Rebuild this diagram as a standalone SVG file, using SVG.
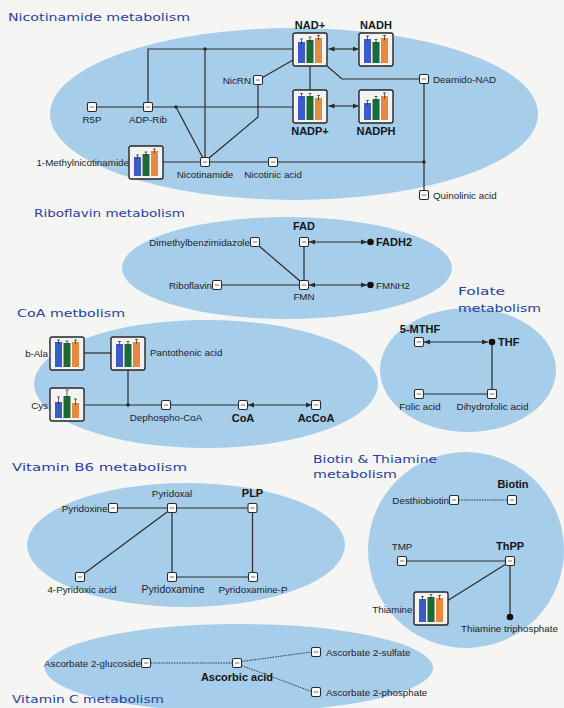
<svg xmlns="http://www.w3.org/2000/svg" xmlns:xlink="http://www.w3.org/1999/xlink" width="564" height="708" viewBox="0 0 564 708">
  <style>
    .bg { fill: #f5f5f3; }
    .zone { fill: #a6cde9; }
    .tt { font-family: "DejaVu Sans", "Verdana", sans-serif; font-size: 11px; fill: #2a3fa4; }
    .lb { font-family: "Liberation Sans", Arial, sans-serif; font-size: 9.8px; fill: #22222c; }
    .bd { font-family: "Liberation Sans", Arial, sans-serif; font-size: 11px; font-weight: bold; fill: #151518; }
    .ln { fill: none; stroke: #2b2b2b; stroke-width: 1.2; }
    .dl { fill: none; stroke: #3a3f52; stroke-width: 1; stroke-dasharray: 1.6 1; }
    .ar { fill: none; stroke: #2b2b2b; stroke-width: 1.1; marker-start: url(#ah); marker-end: url(#ah); }
    .jn { fill: #2b2b2b; }
    .dot { fill: #111; }
    .bx { fill: #f3f3f3; stroke: #262626; stroke-width: 1.4; }
    .b1 { fill: #3a5cc6; }
    .b2 { fill: #1f6a34; }
    .b3 { fill: #e9893e; }
    .eb { fill: none; stroke: #222; stroke-width: 0.7; }
    .sn { fill: #ffffff; stroke: #2a2a2a; stroke-width: 1.1; }
    .mk { fill: #9a9a9a; }
  </style>
  <defs>
    <marker id="ah" viewBox="0 0 6 6" refX="6" refY="3" markerWidth="6" markerHeight="6" markerUnits="userSpaceOnUse" orient="auto-start-reverse">
      <path d="M0,0.4 L6,3 L0,5.6 z" fill="#2b2b2b"/>
    </marker>
    <!-- small compound node, centred on 0,0 -->
    <g id="sn">
      <rect class="sn" x="-4.5" y="-4.5" width="9" height="9" rx="1.5"/>
      <rect class="mk" x="-2.2" y="-0.7" width="4.4" height="1.4"/>
    </g>
  </defs>

  <rect class="bg" x="0" y="0" width="564" height="708"/>

  <!-- pathway areas -->
  <ellipse class="zone" cx="294" cy="114" rx="244" ry="86"/>
  <ellipse class="zone" cx="287" cy="268" rx="165" ry="51"/>
  <ellipse class="zone" cx="206" cy="384" rx="172" ry="64"/>
  <ellipse class="zone" cx="468" cy="370" rx="88" ry="62"/>
  <ellipse class="zone" cx="186" cy="545" rx="159" ry="62"/>
  <ellipse class="zone" cx="466" cy="550" rx="98" ry="98"/>
  <ellipse class="zone" cx="239" cy="668" rx="194" ry="44"/>

  <!-- pathway titles -->
  <g id="titles">
    <text class="tt" x="8" y="21" textLength="182" lengthAdjust="spacingAndGlyphs">Nicotinamide metabolism</text>
    <text class="tt" x="34" y="217" textLength="151" lengthAdjust="spacingAndGlyphs">Riboflavin metabolism</text>
    <text class="tt" x="17" y="317" textLength="108" lengthAdjust="spacingAndGlyphs">CoA metbolism</text>
    <text class="tt" x="458" y="295" textLength="47" lengthAdjust="spacingAndGlyphs">Folate</text>
    <text class="tt" x="458" y="312" textLength="83" lengthAdjust="spacingAndGlyphs">metabolism</text>
    <text class="tt" x="12" y="471" textLength="175" lengthAdjust="spacingAndGlyphs">Vitamin B6 metabolism</text>
    <text class="tt" x="313" y="463" textLength="124" lengthAdjust="spacingAndGlyphs">Biotin &amp; Thiamine</text>
    <text class="tt" x="313" y="478" textLength="84" lengthAdjust="spacingAndGlyphs">metabolism</text>
    <text class="tt" x="12" y="703" textLength="152" lengthAdjust="spacingAndGlyphs">Vitamin C metabolism</text>
  </g>

  <!-- connectors -->
  <g id="connectors">
    <!-- nicotinamide -->
    <path class="ln" d="M148,102.5 V49 H293"/>
    <path class="ln" d="M205,157.5 V49"/>
    <path class="ln" d="M96.5,107 H143.5"/>
    <path class="ln" d="M152.5,107 H293"/>
    <path class="ln" d="M176,107 L203,158"/>
    <path class="ln" d="M262.5,77.5 L293,60"/>
    <path class="ln" d="M258,84.5 V117 L208.5,158.5"/>
    <path class="ln" d="M162.5,162 H200.5"/>
    <path class="ln" d="M209.5,162 H268.5"/>
    <path class="ln" d="M277.5,162 H424"/>
    <path class="ln" d="M327,66 L342,79 H419.5"/>
    <path class="ln" d="M424,83.5 V190.5"/>
    <path class="ln" d="M310,66 V90"/>
    <path class="ar" d="M328.5,49 H358.5"/>
    <path class="ar" d="M328.5,106 H358.5"/>
    <circle class="jn" cx="205" cy="49" r="1.8"/>
    <circle class="jn" cx="176" cy="107" r="1.8"/>
    <circle class="jn" cx="424" cy="162" r="1.8"/>
    <!-- riboflavin -->
    <path class="ln" d="M258.5,245.5 L300.5,281.5"/>
    <path class="ln" d="M304,246.5 V280.5"/>
    <path class="ln" d="M221.5,285 H299.5"/>
    <path class="ar" d="M309,242 H367"/>
    <path class="ar" d="M309,285 H367"/>
    <!-- CoA -->
    <path class="ln" d="M84,353 H111"/>
    <path class="ln" d="M128,370 V405"/>
    <path class="ln" d="M84,405 H161.5"/>
    <path class="ln" d="M170.5,405 H238.5"/>
    <path class="ar" d="M248,405 H311.5"/>
    <circle class="jn" cx="128" cy="405" r="1.8"/>
    <!-- folate -->
    <path class="ar" d="M424,342 H488"/>
    <path class="ln" d="M492,342 V389.5"/>
    <path class="ln" d="M423.5,394 H487.5"/>
    <!-- vitamin B6 -->
    <path class="ln" d="M117.5,508 H167.5"/>
    <path class="ln" d="M176.5,508 H247.5"/>
    <path class="ln" d="M168.5,511 L83.5,574"/>
    <path class="ln" d="M172,512.5 V572.5"/>
    <path class="ln" d="M252.5,512.5 V572.5"/>
    <path class="ln" d="M176.5,577 H248.5"/>
    <!-- biotin & thiamine -->
    <path class="dl" d="M458.5,500 H507.5"/>
    <path class="ln" d="M406.5,561 H505.5"/>
    <path class="ln" d="M447,601 L506,564"/>
    <path class="ln" d="M510,565.5 V617"/>
    <!-- vitamin C -->
    <path class="dl" d="M150.5,663 H232.5"/>
    <path class="dl" d="M241.5,661.5 L311.5,652"/>
    <path class="dl" d="M241.5,665.5 L311.5,691.5"/>
  </g>

  <!-- nicotinamide metabolism nodes -->
  <g id="nad">
    <g transform="translate(293,33)">
      <rect class="bx" width="34" height="33" rx="2"/>
      <rect class="b1" x="5" y="9" width="7" height="21"/><rect class="b2" x="13.5" y="7" width="7" height="23"/><rect class="b3" x="22" y="5" width="7" height="25"/>
      <path class="eb" d="M8.5,6 v5 M7,6 h3 M17,4 v5 M15.5,4 h3 M25.5,2.5 v5 M24,2.5 h3"/>
    </g>
    <text class="bd" x="310" y="29" text-anchor="middle">NAD+</text>
  </g>
  <g id="nadh">
    <g transform="translate(359,33)">
      <rect class="bx" width="34" height="33" rx="2"/>
      <rect class="b1" x="5" y="6" width="7" height="24"/><rect class="b2" x="13.5" y="9" width="7" height="21"/><rect class="b3" x="22" y="5" width="7" height="25"/>
      <path class="eb" d="M8.5,3 v5 M7,3 h3 M17,6.5 v5 M15.5,6.5 h3 M25.5,2.5 v5 M24,2.5 h3"/>
    </g>
    <text class="bd" x="376" y="29" text-anchor="middle">NADH</text>
  </g>
  <g id="nadp">
    <g transform="translate(293,90)">
      <rect class="bx" width="34" height="33" rx="2"/>
      <rect class="b1" x="5" y="6" width="7" height="24"/><rect class="b2" x="13.5" y="6" width="7" height="24"/><rect class="b3" x="22" y="8" width="7" height="22"/>
      <path class="eb" d="M8.5,3.5 v5 M7,3.5 h3 M17,3.5 v5 M15.5,3.5 h3 M25.5,5.5 v5 M24,5.5 h3"/>
    </g>
    <text class="bd" x="310" y="135" text-anchor="middle">NADP+</text>
  </g>
  <g id="nadph">
    <g transform="translate(359,90)">
      <rect class="bx" width="34" height="33" rx="2"/>
      <rect class="b1" x="5" y="13" width="7" height="17"/><rect class="b2" x="13.5" y="9" width="7" height="21"/><rect class="b3" x="22" y="6" width="7" height="24"/>
      <path class="eb" d="M8.5,10.5 v5 M7,10.5 h3 M17,6.5 v5 M15.5,6.5 h3 M25.5,3 v6 M24,3 h3"/>
    </g>
    <text class="bd" x="376" y="135" text-anchor="middle">NADPH</text>
  </g>
  <g id="methylnicotinamide">
    <g transform="translate(129,146)">
      <rect class="bx" width="34" height="33" rx="2"/>
      <rect class="b1" x="5" y="11" width="7" height="19"/><rect class="b2" x="13.5" y="8" width="7" height="22"/><rect class="b3" x="22" y="5" width="7" height="25"/>
      <path class="eb" d="M8.5,9 v4 M7,9 h3 M17,6 v4 M15.5,6 h3 M25.5,3 v4 M24,3 h3"/>
    </g>
    <text class="lb" x="129" y="166" text-anchor="end">1-Methylnicotinamide</text>
  </g>
  <g id="r5p"><use xlink:href="#sn" x="92" y="107"/><text class="lb" x="92" y="123" text-anchor="middle">R5P</text></g>
  <g id="adp-rib"><use xlink:href="#sn" x="148" y="107"/><text class="lb" x="148" y="123" text-anchor="middle">ADP-Rib</text></g>
  <g id="nicrn"><use xlink:href="#sn" x="258" y="80"/><text class="lb" x="251" y="83.5" text-anchor="end">NicRN</text></g>
  <g id="nicotinamide"><use xlink:href="#sn" x="205" y="162"/><text class="lb" x="205" y="178" text-anchor="middle">Nicotinamide</text></g>
  <g id="nicotinic-acid"><use xlink:href="#sn" x="273" y="162"/><text class="lb" x="273" y="178" text-anchor="middle">Nicotinic acid</text></g>
  <g id="deamido-nad"><use xlink:href="#sn" x="424" y="79"/><text class="lb" x="433" y="82.5">Deamido-NAD</text></g>
  <g id="quinolinic-acid"><use xlink:href="#sn" x="424" y="195"/><text class="lb" x="433" y="198.5">Quinolinic acid</text></g>

  <!-- riboflavin metabolism nodes -->
  <g id="dmb"><use xlink:href="#sn" x="255" y="242"/><text class="lb" x="250" y="245.5" text-anchor="end">Dimethylbenzimidazole</text></g>
  <g id="fad"><use xlink:href="#sn" x="304" y="242"/><text class="bd" x="304" y="230" text-anchor="middle">FAD</text></g>
  <g id="riboflavin"><use xlink:href="#sn" x="217" y="285"/><text class="lb" x="212" y="288.5" text-anchor="end">Riboflavin</text></g>
  <g id="fmn"><use xlink:href="#sn" x="304" y="285"/><text class="lb" x="304" y="300" text-anchor="middle">FMN</text></g>
  <g id="fadh2"><circle class="dot" cx="370.5" cy="242" r="3.3"/><text class="bd" x="376" y="246">FADH2</text></g>
  <g id="fmnh2"><circle class="dot" cx="370.5" cy="285" r="3.3"/><text class="lb" x="376" y="288.5">FMNH2</text></g>

  <!-- CoA metabolism nodes -->
  <g id="b-ala">
    <g transform="translate(50,337)">
      <rect class="bx" width="34" height="33" rx="2"/>
      <rect class="b1" x="5" y="5" width="7" height="25"/><rect class="b2" x="13.5" y="6" width="7" height="24"/><rect class="b3" x="22" y="5" width="7" height="25"/>
      <path class="eb" d="M8.5,3 v4 M7,3 h3 M17,4 v4 M15.5,4 h3 M25.5,3 v4 M24,3 h3"/>
    </g>
    <text class="lb" x="48" y="356.5" text-anchor="end">b-Ala</text>
  </g>
  <g id="pantothenic-acid">
    <g transform="translate(111,337)">
      <rect class="bx" width="34" height="33" rx="2"/>
      <rect class="b1" x="5" y="7" width="7" height="23"/><rect class="b2" x="13.5" y="7" width="7" height="23"/><rect class="b3" x="22" y="5" width="7" height="25"/>
      <path class="eb" d="M8.5,4.5 v4 M7,4.5 h3 M17,4.5 v4 M15.5,4.5 h3 M25.5,2.5 v4 M24,2.5 h3"/>
    </g>
    <text class="lb" x="150" y="356">Pantothenic acid</text>
  </g>
  <g id="cys">
    <g transform="translate(50,388)">
      <rect class="bx" width="34" height="33" rx="2"/>
      <rect class="b1" x="5" y="14" width="7" height="16"/><rect class="b2" x="13.5" y="8" width="7" height="22"/><rect class="b3" x="22" y="15" width="7" height="15"/>
      <path class="eb" d="M8.5,9 v7 M7,9 h3 M17,2 v8 M15.5,2 h3 M25.5,11 v6 M24,11 h3"/>
    </g>
    <text class="lb" x="48" y="408.5" text-anchor="end">Cys</text>
  </g>
  <g id="dephospho-coa"><use xlink:href="#sn" x="166" y="405"/><text class="lb" x="166" y="421" text-anchor="middle">Dephospho-CoA</text></g>
  <g id="coa"><use xlink:href="#sn" x="243" y="405"/><text class="bd" x="243" y="422" text-anchor="middle">CoA</text></g>
  <g id="accoa"><use xlink:href="#sn" x="316" y="405"/><text class="bd" x="316" y="422" text-anchor="middle">AcCoA</text></g>

  <!-- folate metabolism nodes -->
  <g id="mthf"><use xlink:href="#sn" x="419" y="342"/><text class="bd" x="420" y="333" text-anchor="middle">5-MTHF</text></g>
  <g id="thf"><circle class="dot" cx="492" cy="342" r="3.3"/><text class="bd" x="498" y="346">THF</text></g>
  <g id="folic-acid"><use xlink:href="#sn" x="419" y="394"/><text class="lb" x="420" y="410" text-anchor="middle">Folic acid</text></g>
  <g id="dihydrofolic-acid"><use xlink:href="#sn" x="492" y="394"/><text class="lb" x="492.5" y="410" text-anchor="middle">Dihydrofolic acid</text></g>

  <!-- vitamin B6 metabolism nodes -->
  <g id="pyridoxine"><use xlink:href="#sn" x="113" y="508"/><text class="lb" x="107.5" y="511.5" text-anchor="end">Pyridoxine</text></g>
  <g id="pyridoxal"><use xlink:href="#sn" x="172" y="508"/><text class="lb" x="172" y="497" text-anchor="middle">Pyridoxal</text></g>
  <g id="plp"><use xlink:href="#sn" x="252.5" y="508"/><text class="bd" x="252.5" y="497" text-anchor="middle">PLP</text></g>
  <g id="pyridoxic-acid"><use xlink:href="#sn" x="80" y="577"/><text class="lb" x="82" y="593" text-anchor="middle">4-Pyridoxic acid</text></g>
  <g id="pyridoxamine"><use xlink:href="#sn" x="172" y="577"/><text class="lb" x="173" y="593" text-anchor="middle" style="font-size:10.4px">Pyridoxamine</text></g>
  <g id="pyridoxamine-p"><use xlink:href="#sn" x="253" y="577"/><text class="lb" x="253" y="593" text-anchor="middle">Pyridoxamine-P</text></g>

  <!-- biotin & thiamine metabolism nodes -->
  <g id="desthiobiotin"><use xlink:href="#sn" x="454" y="500"/><text class="lb" x="449" y="503.5" text-anchor="end">Desthiobiotin</text></g>
  <g id="biotin"><use xlink:href="#sn" x="512" y="500"/><text class="bd" x="513" y="488" text-anchor="middle">Biotin</text></g>
  <g id="tmp"><use xlink:href="#sn" x="402" y="561"/><text class="lb" x="402" y="550" text-anchor="middle">TMP</text></g>
  <g id="thpp"><use xlink:href="#sn" x="510" y="561"/><text class="bd" x="510" y="550" text-anchor="middle">ThPP</text></g>
  <g id="thiamine">
    <g transform="translate(414,592)">
      <rect class="bx" width="34" height="33" rx="2"/>
      <rect class="b1" x="5" y="7" width="7" height="23"/><rect class="b2" x="13.5" y="5" width="7" height="25"/><rect class="b3" x="22" y="6" width="7" height="24"/>
      <path class="eb" d="M8.5,4.5 v4 M7,4.5 h3 M17,2.5 v4 M15.5,2.5 h3 M25.5,3.5 v4 M24,3.5 h3"/>
    </g>
    <text class="lb" x="412.5" y="613" text-anchor="end">Thiamine</text>
  </g>
  <g id="thiamine-triphosphate"><circle class="dot" cx="510" cy="617" r="3.3"/><text class="lb" x="461" y="632">Thiamine triphosphate</text></g>

  <!-- vitamin C metabolism nodes -->
  <g id="ascorbate-glucoside"><use xlink:href="#sn" x="146" y="663"/><text class="lb" x="141" y="666.5" text-anchor="end">Ascorbate 2-glucoside</text></g>
  <g id="ascorbic-acid"><use xlink:href="#sn" x="237" y="663"/><text class="bd" x="237" y="681" text-anchor="middle">Ascorbic acid</text></g>
  <g id="ascorbate-sulfate"><use xlink:href="#sn" x="316" y="652"/><text class="lb" x="326" y="655.5">Ascorbate 2-sulfate</text></g>
  <g id="ascorbate-phosphate"><use xlink:href="#sn" x="316" y="692"/><text class="lb" x="326" y="695.5">Ascorbate 2-phosphate</text></g>
</svg>
